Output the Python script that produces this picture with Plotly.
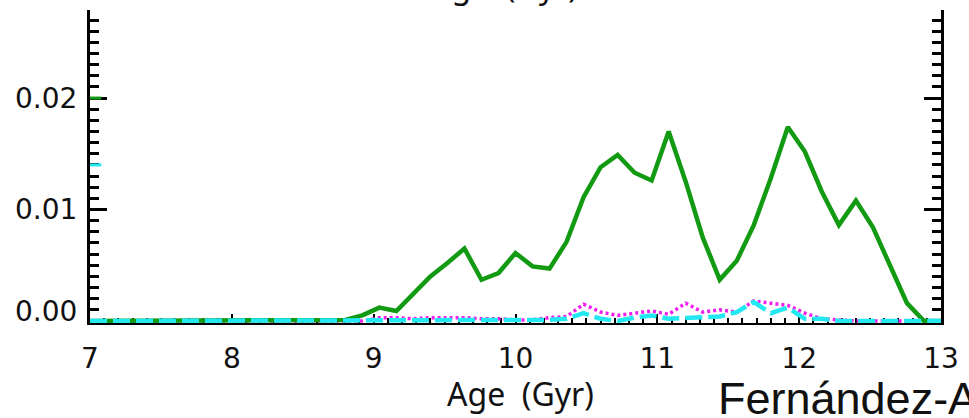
import plotly.graph_objects as go

# Age grid (Gyr) of the star-formation-history bins
ages = [7.00, 7.12, 7.24, 7.36, 7.48, 7.60, 7.72, 7.84, 7.96, 8.08,
        8.20, 8.32, 8.44, 8.56, 8.68, 8.80, 8.92, 9.04, 9.16, 9.28,
        9.40, 9.52, 9.64, 9.76, 9.88, 10.00, 10.12, 10.24, 10.36, 10.48,
        10.60, 10.72, 10.84, 10.96, 11.08, 11.20, 11.32, 11.44, 11.56, 11.68,
        11.80, 11.92, 12.04, 12.16, 12.28, 12.40, 12.52, 12.64, 12.76, 12.88,
        13.00]

# Normalised star formation rate per bin
sfr_green = [0, 0, 0, 0, 0, 0, 0, 0, 0, 0,
             0, 0, 0, 0, 0, 0.0001, 0.0005, 0.0012, 0.0009, 0.0024,
             0.0040, 0.0052, 0.0065, 0.0037, 0.0043, 0.0061, 0.0049, 0.0047, 0.0071, 0.0111,
             0.0138, 0.0149, 0.0133, 0.0126, 0.0170, 0.0125, 0.0075, 0.0037, 0.0054, 0.0086,
             0.0128, 0.0174, 0.0152, 0.0116, 0.0086, 0.0108, 0.0084, 0.0050, 0.0016, 0.0,
             0.0]

sfr_magenta = [0, 0, 0, 0, 0, 0, 0, 0, 0, 0,
               0, 0, 0, 0, 0, 0, 0, 0.0003, 0.0003, 0.0002,
               0.0003, 0.0003, 0.0003, 0.0002, 0.0002, 0.0001, 0.0001, 0.0003, 0.0004, 0.0015,
               0.0008, 0.0005, 0.0007, 0.0009, 0.0006, 0.0016, 0.0008, 0.0010, 0.0008, 0.0018,
               0.0016, 0.0014, 0.0007, 0.0002, 0.0001, 0, 0, 0, 0, 0,
               0]

sfr_cyan = [0, 0, 0, 0, 0, 0, 0, 0, 0, 0,
            0, 0, 0, 0, 0, 0, 0, 0.0001, 0.0001, 0.0001,
            0.0001, 0.0001, 0.0001, 0.0001, 0.0001, 0.0001, 0.0001, 0.0001, 0.0002, 0.0007,
            0.0002, 0.0, 0.0003, 0.0005, 0.0002, 0.0003, 0.0004, 0.0004, 0.0008, 0.0017,
            0.0007, 0.0012, 0.0002, 0.0002, 0.0, 0, 0, 0, 0, 0,
            0]

x_ticks = [7, 8, 9, 10, 11, 12, 13]
x_tick_labels = ["7", "8", "9", "10", "11", "12", "13"]
y_ticks = [0.00, 0.01, 0.02]
y_tick_labels = ["0.00", "0.01", "0.02"]

# short coloured markers on the left axis
axis_mark_levels = [0.020, 0.014]
axis_mark_colors = ["#139a13", "#22e8f2"]

GREEN = "#139a13"
MAGENTA = "#f01ef0"
CYAN = "#22e8f2"

fig = go.Figure()

fig.add_trace(go.Scatter(x=ages, y=sfr_magenta, mode="lines",
                         line=dict(color=MAGENTA, width=3.5, dash="3px,3px"),
                         showlegend=False))
fig.add_trace(go.Scatter(x=ages, y=sfr_green, mode="lines",
                         line=dict(color=GREEN, width=4.5),
                         showlegend=False))
fig.add_trace(go.Scatter(x=ages, y=sfr_cyan, mode="lines",
                         line=dict(color=CYAN, width=4.5, dash="17px,6px"),
                         showlegend=False))

for lvl, col in zip(axis_mark_levels, axis_mark_colors):
    fig.add_trace(go.Scatter(x=[7.0, 7.08], y=[lvl, lvl], mode="lines",
                             line=dict(color=col, width=3),
                             showlegend=False))

tick_font = dict(family="DejaVu Sans", size=28, color="#111111")

# y tick labels; the bottom one is lifted off the x axis
for val, lab in zip(y_ticks, y_tick_labels):
    fig.add_annotation(x=0, xref="paper", y=val, yref="y",
                       text=lab, showarrow=False, xanchor="right", yanchor="middle",
                       xshift=-11, yshift=(9 if val == 0 else 0),
                       font=tick_font)

# x axis title
fig.add_annotation(x=0.5064, xref="paper", y=0, yref="paper",
                   text="Age  (Gyr)", showarrow=False, xanchor="center", yanchor="top",
                   yshift=-47, font=dict(family="Noto Sans", size=32, color="#111111"))

# title of the panel above, running off the top edge
fig.add_annotation(x=0.4865, xref="paper", y=1, yref="paper",
                   text="Age  (Gyr)", showarrow=False, xanchor="center", yanchor="bottom",
                   yshift=1, font=dict(family="Noto Sans", size=32, color="#111111"))

# author credit, running off the right edge
fig.add_annotation(x=0.7357, xref="paper", y=0, yref="paper",
                   text="Fernández-Alvar", showarrow=False, xanchor="left", yanchor="top",
                   yshift=-48, font=dict(family="Liberation Sans", size=45, color="#111111"))

fig.update_layout(
    width=969, height=418,
    margin=dict(l=90, r=20, t=10, b=95),
    paper_bgcolor="white", plot_bgcolor="white",
    showlegend=False,
    xaxis=dict(range=[7, 13], tickmode="array", tickvals=x_ticks, ticktext=x_tick_labels,
               ticks="inside", ticklen=9, tickwidth=2, tickcolor="black",
               showline=True, linecolor="black", linewidth=2, mirror=False,
               showgrid=False, zeroline=False, layer="below traces",
               tickfont=tick_font, ticklabelstandoff=9,
               minor=dict(dtick=0.1, ticks="inside", ticklen=5, tickwidth=2,
                          tickcolor="black", showgrid=False)),
    yaxis=dict(range=[-0.00018, 0.0279], tickmode="array", tickvals=y_ticks,
               ticks="inside", ticklen=17, tickwidth=2.5, tickcolor="black",
               showline=True, linecolor="black", linewidth=3, mirror="ticks",
               showgrid=False, zeroline=False, showticklabels=False,
               layer="below traces",
               minor=dict(dtick=0.001, ticks="inside", ticklen=9, tickwidth=2.5,
                          tickcolor="black", showgrid=False)),
)

fig.write_html("out.html")
